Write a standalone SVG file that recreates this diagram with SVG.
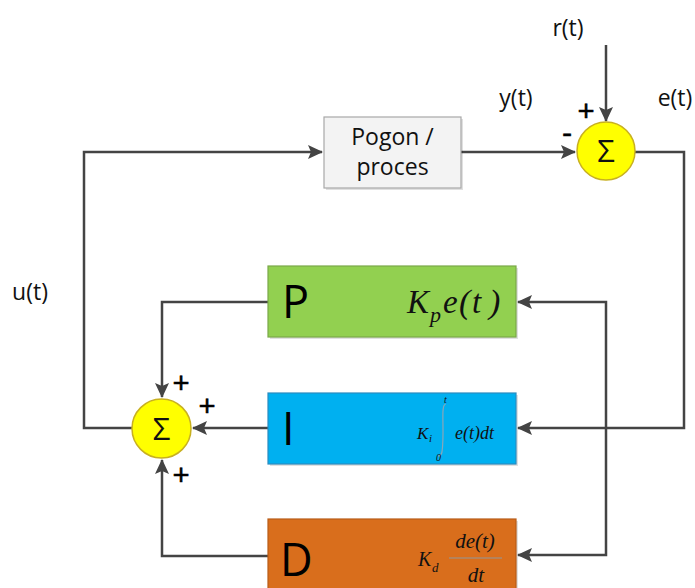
<svg xmlns="http://www.w3.org/2000/svg" width="695" height="588" viewBox="0 0 695 588">
<style>
.lbl{font-family:"Open Sans","Liberation Sans",sans-serif;fill:#111;font-size:23px}
.big{font-family:"Open Sans","Liberation Sans",sans-serif;fill:#000;font-size:45px}
.sig{font-family:"Open Sans","Liberation Sans",sans-serif;fill:#111;font-size:31px;text-anchor:middle}
.sign{font-family:"Open Sans","Liberation Sans",sans-serif;fill:#000;font-size:30px;text-anchor:middle;stroke:#000;stroke-width:0.6}
.m{font-family:"Liberation Serif","DejaVu Serif",serif;font-style:italic;fill:#111}
.conn{fill:none;stroke:#444;stroke-width:2.5}
.sum{fill:#ffff00;stroke:#c8b020;stroke-width:1.5}
.shadow{fill:#000;opacity:0.12}
</style>
<defs>
<marker id="arr" markerUnits="userSpaceOnUse" markerWidth="16" markerHeight="16" refX="14" refY="7" orient="auto">
<path d="M0,0 L15,7 L0,14 L3,7 Z" fill="#444"/>
</marker>
</defs>
<rect width="695" height="588" fill="#fff"/>

<g id="connectors">
<path class="conn" d="M132,428 H84 V152 H322" marker-end="url(#arr)"/>
<path class="conn" d="M461,152 H575" marker-end="url(#arr)"/>
<path class="conn" d="M606,45 V121" marker-end="url(#arr)"/>
<path class="conn" d="M635,152 H684 V428 H518" marker-end="url(#arr)"/>
<path class="conn" d="M606,428 V302 H518" marker-end="url(#arr)"/>
<path class="conn" d="M606,428 V555 H518" marker-end="url(#arr)"/>
<path class="conn" d="M268,302 H162 V397" marker-end="url(#arr)"/>
<path class="conn" d="M268,428 H193" marker-end="url(#arr)"/>
<path class="conn" d="M268,556 H162 V460" marker-end="url(#arr)"/>
</g>

<g id="plant">
<rect class="shadow" x="326" y="119" width="137" height="71"/>
<rect x="324" y="117" width="137" height="71" fill="#f3f3f3" stroke="#a8a8a8" stroke-width="1.2"/>
<text class="lbl" x="392.5" y="145" text-anchor="middle" font-size="22">Pogon /</text>
<text class="lbl" x="392.5" y="175" text-anchor="middle" font-size="22">proces</text>
</g>

<g id="sum1">
<circle class="sum" cx="606" cy="151" r="29"/>
<text class="sig" x="606" y="162">Σ</text>
<text class="sign" x="586" y="121">+</text>
<text class="sign" x="567" y="143">-</text>
</g>

<g id="sum2">
<circle class="sum" cx="161.5" cy="428.5" r="29.5"/>
<text class="sig" x="161.5" y="439.5">Σ</text>
<text class="sign" x="181" y="393">+</text>
<text class="sign" x="207" y="416">+</text>
<text class="sign" x="181" y="485">+</text>
</g>

<g id="P">
<rect class="shadow" x="270" y="268" width="248" height="71"/>
<rect x="268" y="266" width="248" height="71" fill="#92d050" stroke="#7aa848" stroke-width="1.2"/>
<text class="big" x="282" y="318">P</text>
<text class="m" font-size="33" x="407" y="313">K</text>
<text class="m" font-size="22" x="430" y="322">p</text>
<text class="m" font-size="33" x="443" y="313">e</text>
<text class="m" font-size="34" x="459" y="313" font-style="normal">(</text>
<text class="m" font-size="33" x="472" y="313">t</text>
<text class="m" font-size="34" x="489" y="313" font-style="normal">)</text>
</g>

<g id="I">
<rect class="shadow" x="270" y="395" width="248" height="71"/>
<rect x="268" y="393" width="248" height="71" fill="#00b0f0" stroke="#2a8cc0" stroke-width="1.2"/>
<text class="big" x="282" y="445">I</text>
<text class="m" font-size="17" x="417" y="439">K</text>
<text class="m" font-size="11" x="429" y="442">i</text>
<path d="M446,404 C440,404 445,430 442,452 C441,456 438,456 438,456" fill="none" stroke="#8aa6b8" stroke-width="1.2"/>
<text class="m" font-size="10" x="444" y="403">t</text>
<text class="m" font-size="10" x="436" y="461" font-style="normal">0</text>
<text class="m" font-size="18" x="455" y="439">e(t)dt</text>
</g>

<g id="D">
<rect class="shadow" x="270" y="521" width="248" height="71"/>
<rect x="268" y="519" width="248" height="71" fill="#d96e1c" stroke="#b85c18" stroke-width="1.2"/>
<text class="big" x="280" y="576">D</text>
<text class="m" font-size="20" x="418" y="566">K</text>
<text class="m" font-size="13" x="432" y="572">d</text>
<text class="m" font-size="21" x="475" y="548" text-anchor="middle">de(t)</text>
<line x1="449" y1="558" x2="502" y2="558" stroke="#a88a70" stroke-width="1.5"/>
<text class="m" font-size="21" x="476" y="582" text-anchor="middle">dt</text>
</g>

<g id="labels">
<text class="lbl" x="568" y="36" text-anchor="middle">r(t)</text>
<text class="lbl" x="516" y="106" text-anchor="middle">y(t)</text>
<text class="lbl" x="675" y="106" text-anchor="middle">e(t)</text>
<text class="lbl" x="30" y="300" text-anchor="middle">u(t)</text>
</g>
</svg>
